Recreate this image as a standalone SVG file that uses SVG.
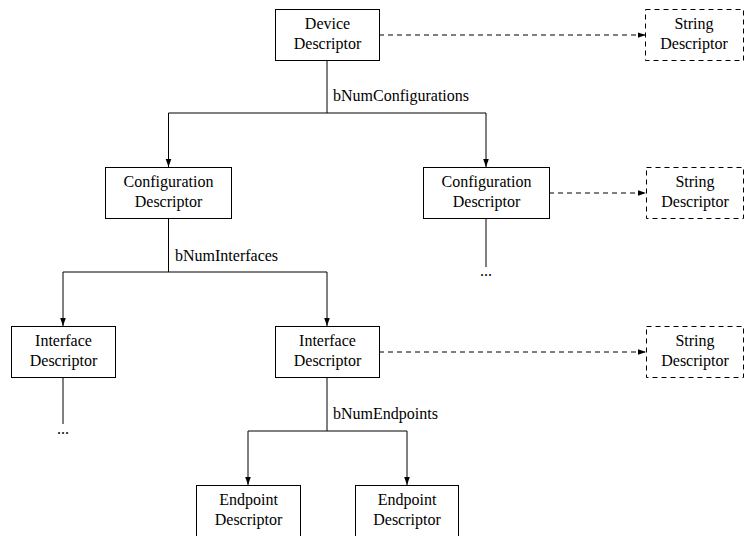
<svg xmlns="http://www.w3.org/2000/svg" width="744" height="536" viewBox="0 0 744 536">
<style>
.box{fill:#fff;stroke:#000;stroke-width:1}
.dbox{fill:#fff;stroke:#000;stroke-width:1;stroke-dasharray:5,4}
.ln{fill:none;stroke:#000;stroke-width:1}
.dl{fill:none;stroke:#000;stroke-width:1;stroke-dasharray:5,4}
text{font-family:"Liberation Serif","Times New Roman",serif;font-size:16px;fill:#000}
.c{text-anchor:middle}
</style>
<defs>
<marker id="ah" viewBox="0 0 8 8" refX="8" refY="4" markerWidth="8" markerHeight="8" markerUnits="userSpaceOnUse" orient="auto">
<path d="M0,1.2 L8,4 L0,6.8 Z" fill="#000"/>
</marker>
</defs>
<rect width="744" height="536" fill="#fff"/>
<g id="connectors">
<path class="ln" d="M327,60 V113"/>
<path class="ln" d="M168.5,113 H486"/>
<path class="ln" d="M168.5,113 V167" marker-end="url(#ah)"/>
<path class="ln" d="M486,113 V167" marker-end="url(#ah)"/>
<path class="dl" d="M379,35 H645.5" marker-end="url(#ah)"/>
<path class="dl" d="M549,193 H646" marker-end="url(#ah)"/>
<path class="ln" d="M486,219 V267"/>
<text x="486" y="276" class="c">...</text>
<path class="ln" d="M168.5,219 V272"/>
<path class="ln" d="M63,272 H327"/>
<path class="ln" d="M63,272 V326" marker-end="url(#ah)"/>
<path class="ln" d="M327,272 V326" marker-end="url(#ah)"/>
<path class="dl" d="M379,352 H646" marker-end="url(#ah)"/>
<path class="ln" d="M63,378 V424"/>
<text x="63" y="434" class="c">...</text>
<path class="ln" d="M327,378 V431"/>
<path class="ln" d="M248,431 H407"/>
<path class="ln" d="M248,431 V485" marker-end="url(#ah)"/>
<path class="ln" d="M407,431 V485" marker-end="url(#ah)"/>
<text x="333" y="101">bNumConfigurations</text>
<text x="175" y="261">bNumInterfaces</text>
<text x="333" y="419">bNumEndpoints</text>
</g>
<g id="device">
<rect class="box" x="275.5" y="9.5" width="104" height="51"/>
<text x="327.5" y="29" class="c">Device</text>
<text x="327.5" y="49" class="c">Descriptor</text>
</g>
<g id="string1">
<rect class="dbox" x="645.5" y="9.5" width="98" height="51"/>
<text x="694" y="29" class="c">String</text>
<text x="694" y="49" class="c">Descriptor</text>
</g>
<g id="config1">
<rect class="box" x="105.5" y="167.5" width="126" height="51"/>
<text x="168.5" y="187" class="c">Configuration</text>
<text x="168.5" y="207" class="c">Descriptor</text>
</g>
<g id="config2">
<rect class="box" x="423.5" y="167.5" width="126" height="51"/>
<text x="486.5" y="187" class="c">Configuration</text>
<text x="486.5" y="207" class="c">Descriptor</text>
</g>
<g id="string2">
<rect class="dbox" x="646.5" y="167.5" width="97" height="51"/>
<text x="695" y="187" class="c">String</text>
<text x="695" y="207" class="c">Descriptor</text>
</g>
<g id="iface1">
<rect class="box" x="11.5" y="326.5" width="104" height="51"/>
<text x="63.5" y="346" class="c">Interface</text>
<text x="63.5" y="366" class="c">Descriptor</text>
</g>
<g id="iface2">
<rect class="box" x="275.5" y="326.5" width="104" height="51"/>
<text x="327.5" y="346" class="c">Interface</text>
<text x="327.5" y="366" class="c">Descriptor</text>
</g>
<g id="string3">
<rect class="dbox" x="646.5" y="326.5" width="97" height="51"/>
<text x="695" y="346" class="c">String</text>
<text x="695" y="366" class="c">Descriptor</text>
</g>
<g id="ep1">
<rect class="box" x="196.5" y="485.5" width="104" height="51"/>
<text x="248.5" y="505" class="c">Endpoint</text>
<text x="248.5" y="525" class="c">Descriptor</text>
</g>
<g id="ep2">
<rect class="box" x="355.5" y="485.5" width="103" height="51"/>
<text x="407" y="505" class="c">Endpoint</text>
<text x="407" y="525" class="c">Descriptor</text>
</g>
</svg>
